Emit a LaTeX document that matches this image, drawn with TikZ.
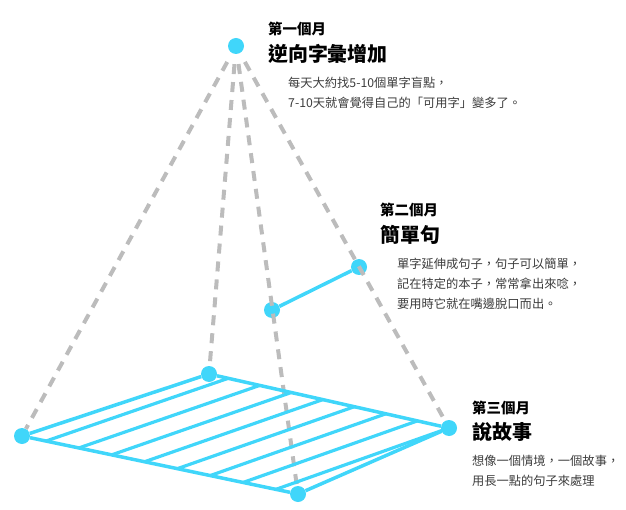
\documentclass[tikz,border=0pt]{standalone}
\usepackage{fontspec}
\setmainfont{Noto Sans CJK TC}
\usetikzlibrary{calc}
\definecolor{skyblue}{RGB}{64,214,250}
\definecolor{dashgray}{RGB}{188,188,188}
\definecolor{notegray}{RGB}{60,60,60}
\begin{document}
\begin{tikzpicture}
  [x=1bp,y=-1bp,
   dot/.style={circle,fill=skyblue,inner sep=0pt,minimum size=16bp},
   ray/.style={draw=dashgray,line width=4bp,dash pattern=on 10bp off 8bp,shorten <=10bp},
   edge/.style={draw=skyblue,line width=3.5bp},
   month/.style={anchor=west,inner sep=0pt,font=\fontsize{14.5}{16}\selectfont\bfseries},
   goal/.style={anchor=west,inner sep=0pt,font=\fontsize{20}{22}\selectfont\bfseries},
   note/.style={anchor=west,inner sep=0pt,align=left,text=notegray,font=\fontsize{12.3}{20}\selectfont}]
  \useasboundingbox (0,0) rectangle (626,510);
  \node[dot] (top) at (236,46) {};
  \node[dot] (l) at (22,436) {};
  \node[dot] (b) at (209,374) {};
  \node[dot] (r) at (449,428) {};
  \node[dot] (f) at (298,494) {};
  \node[dot] (m1) at (272,310) {};
  \node[dot] (m2) at (359,267) {};
  \foreach \to in {l,b,f,r}
    \draw[ray] (top) -- (\to);
  \foreach \from/\to in {l/b,b/r,r/f,f/l,m1/m2}
    \draw[edge] (\from) -- (\to);
  \foreach \k in {1,...,8}
    \draw[skyblue,line width=3.2bp] ($(l)!{0.087+(\k-1)*0.119}!(f)$) -- ($(b)!{0.08+(\k-1)*0.1314}!(r)$);

  \node[month] (h1) at (268,29) {第一個月};
  \node[goal] (t1) at (268,54) {逆向字彙增加};
  \node[note] (n1) at (288,92.5) {每天大約找5-10個單字盲點，\\7-10天就會覺得自己的「可用字」變多了。};
  \node[month] (h2) at (380,210) {第二個月};
  \node[goal] (t2) at (380,235) {簡單句};
  \node[note] (n2) at (397,284) {單字延伸成句子，句子可以簡單，\\記在特定的本子，常常拿出來唸，\\要用時它就在嘴邊脫口而出。};
  \node[month] (h3) at (472,408) {第三個月};
  \node[goal] (t3) at (472,432) {說故事};
  \node[note] (n3) at (472,471) {想像一個情境，一個故事，\\用長一點的句子來處理};
\end{tikzpicture}
\end{document}
